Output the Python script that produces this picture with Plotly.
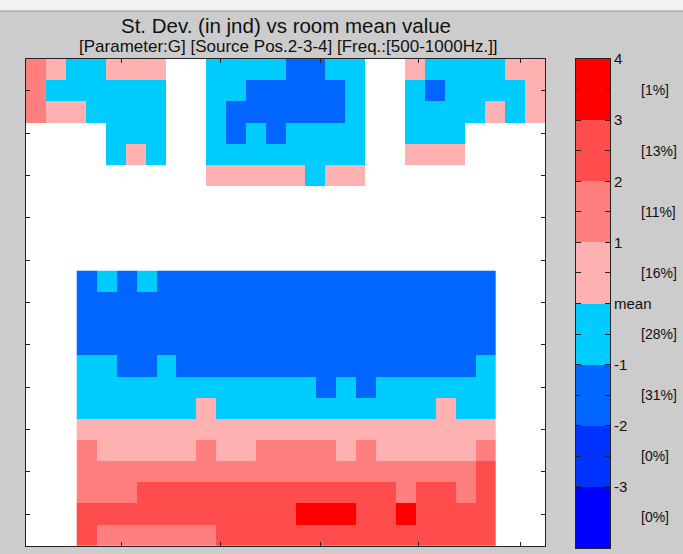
import plotly.graph_objects as go

N = None
# Class values (jnd bins): 3.5, 2.5, 1.5, 0.5, -0.5, -1.5, -2.5, -3.5 ; None = no data
top_rows = [
    [1.5, 0.5, -0.5, -0.5, 0.5, 0.5, 0.5, N, N, -0.5, -0.5, -0.5, -0.5, -1.5, -1.5, -0.5, -0.5, N, N, 0.5, -0.5, -0.5, -0.5, -0.5, 0.5, 0.5],
    [1.5, -0.5, -0.5, -0.5, -0.5, -0.5, -0.5, N, N, -0.5, -0.5, -1.5, -1.5, -1.5, -1.5, -1.5, -0.5, N, N, -0.5, -1.5, -0.5, -0.5, -0.5, -0.5, 0.5],
    [1.5, 0.5, 0.5, -0.5, -0.5, -0.5, -0.5, N, N, -0.5, -1.5, -1.5, -1.5, -1.5, -1.5, -1.5, -0.5, N, N, -0.5, -0.5, -0.5, -0.5, 0.5, -0.5, 0.5],
    [N, N, N, N, -0.5, -0.5, -0.5, N, N, -0.5, -1.5, -0.5, -1.5, -0.5, -0.5, -0.5, -0.5, N, N, -0.5, -0.5, -0.5, N, N, N, N],
    [N, N, N, N, -0.5, 0.5, -0.5, N, N, -0.5, -0.5, -0.5, -0.5, -0.5, -0.5, -0.5, -0.5, N, N, 0.5, 0.5, 0.5, N, N, N, N],
    [N, N, N, N, N, N, N, N, N, 0.5, 0.5, 0.5, 0.5, 0.5, -0.5, 0.5, 0.5, N, N, N, N, N, N, N, N, N],
]

low_rows = [
    [-1.5, -0.5, -1.5, -0.5] + [-1.5] * 17,
    [-1.5] * 21,
    [-1.5] * 21,
    [-1.5] * 21,
    [-0.5, -0.5, -1.5, -1.5, -0.5] + [-1.5] * 15 + [-0.5],
    [-0.5] * 12 + [-1.5, -0.5, -1.5] + [-0.5] * 6,
    [-0.5] * 6 + [0.5] + [-0.5] * 11 + [0.5, -0.5, -0.5],
    [0.5] * 21,
    [1.5, 0.5, 0.5, 0.5, 0.5, 0.5, 1.5, 0.5, 0.5, 1.5, 1.5, 1.5, 1.5, 0.5, 1.5, 0.5, 0.5, 0.5, 0.5, 0.5, 1.5],
    [1.5] * 20 + [2.5],
    [1.5, 1.5, 1.5] + [2.5] * 13 + [1.5, 2.5, 2.5, 1.5, 2.5],
    [2.5] * 11 + [3.5, 3.5, 3.5, 2.5, 2.5, 3.5, 2.5, 2.5, 2.5, 2.5],
    [2.5] + [1.5] * 6 + [2.5] * 14,
]

level_edges = [-4, -3, -2, -1, 0, 1, 2, 3, 4]
level_labels = ["-4", "-3", "-2", "-1", "mean", "1", "2", "3", "4"]
level_mids = [-3.5, -2.5, -1.5, -0.5, 0.5, 1.5, 2.5, 3.5]
level_share = ["[0%]", "[0%]", "[31%]", "[28%]", "[16%]", "[11%]", "[13%]", "[1%]"]
level_colors = ["#0000FF", "#0033FF", "#0066FF", "#00CCFF",
                "#FFB0B0", "#FF7F7F", "#FF4C4C", "#FF0000"]

x_ticks = [4.79, 9.75, 14.73, 19.64, 24.75]
y_ticks = [1.5, 3.5, 5.5, 7.5, 9.5, 11.5, 13.5, 15.5, 17.5, 19.5, 21.5]

colorscale = []
n = len(level_colors)
for i, c in enumerate(level_colors):
    colorscale.append([i / n, c])
    colorscale.append([(i + 1) / n, c])

fig = go.Figure()
fig.add_trace(go.Heatmap(z=top_rows, x0=0.5, dx=1, y0=0.5, dy=1,
                         zmin=-4, zmax=4, colorscale=colorscale, showscale=False,
                         xaxis="x", yaxis="y"))
fig.add_trace(go.Heatmap(z=low_rows, x0=3.04, dx=1, y0=10.5, dy=1,
                         zmin=-4, zmax=4, colorscale=colorscale, showscale=False,
                         xaxis="x", yaxis="y"))
fig.add_trace(go.Heatmap(z=[[v] for v in level_mids], x=[0.5], y=level_mids,
                         zmin=-4, zmax=4, colorscale=colorscale, showscale=False,
                         xaxis="x2", yaxis="y2"))

W, H = 683, 554
ml, mr, mt, mb = 26, 73, 59, 6
pw, ph = W - ml - mr, H - mt - mb

def px(xp):
    return (xp - ml) / pw

def py(yp):
    return (H - mb - yp) / ph

axis_common = dict(showline=True, linecolor="#222", linewidth=1, mirror="ticks",
                   ticks="inside", ticklen=4, tickcolor="#222", showgrid=False,
                   zeroline=False)

fig.update_layout(
    width=W, height=H,
    margin=dict(l=ml, r=mr, t=mt, b=mb),
    paper_bgcolor="#CCCCCC", plot_bgcolor="white",
    font=dict(family="Liberation Sans, Arial, sans-serif", color="#111"),
    showlegend=False,
    xaxis=dict(domain=[0, px(545)], range=[0, 26], tickvals=x_ticks,
               showticklabels=False, **axis_common),
    yaxis=dict(domain=[py(546), 1], range=[23, 0], tickvals=y_ticks,
               showticklabels=False, **axis_common),
    xaxis2=dict(domain=[px(576), 1], range=[0, 1], anchor="y2",
                showline=True, linecolor="#222", mirror=True, ticks="",
                showticklabels=False, showgrid=False, zeroline=False),
    yaxis2=dict(domain=[0, 1], range=[-4, 4], anchor="x2", side="right",
                tickvals=[v / 2 for v in range(-8, 9)],
                ticktext=[(level_labels[level_edges.index(v / 2)] if (v % 2 == 0) else "")
                          for v in range(-8, 9)],
                tickfont=dict(size=15, color="#111"),
                showline=True, linecolor="#222", mirror="ticks",
                ticks="inside", ticklen=5, tickcolor="#222",
                showgrid=False, zeroline=False),
)

annotations = [
    dict(text="St. Dev. (in jnd) vs room mean value", x=px(286), y=py(25),
         xref="paper", yref="paper", showarrow=False, xanchor="center", yanchor="middle",
         font=dict(size=20.5, color="#111")),
    dict(text="[Parameter:G] [Source Pos.2-3-4] [Freq.:[500-1000Hz.]]", x=px(288), y=py(47),
         xref="paper", yref="paper", showarrow=False, xanchor="center", yanchor="middle",
         font=dict(size=17, color="#111")),
]
for m, s in zip(level_mids, level_share):
    annotations.append(dict(text=s, x=px(639), y=m, xref="paper", yref="y2",
                            showarrow=False, xanchor="left", yanchor="middle",
                            font=dict(size=14, color="#111")))
fig.update_layout(annotations=annotations)

fig.add_shape(type="rect", xref="paper", yref="paper", x0=px(0), x1=px(W), y0=py(11), y1=py(0),
              fillcolor="#F2F2F2", line=dict(width=0), layer="below")
fig.add_shape(type="line", xref="paper", yref="paper", x0=px(0), x1=px(W), y0=py(11), y1=py(11),
              line=dict(color="#999", width=1))

fig.write_html("out.html",
               config={"displayModeBar": False},
               post_script="document.body.style.margin='0';document.body.style.background='#CCCCCC';document.body.style.overflow='hidden';")
